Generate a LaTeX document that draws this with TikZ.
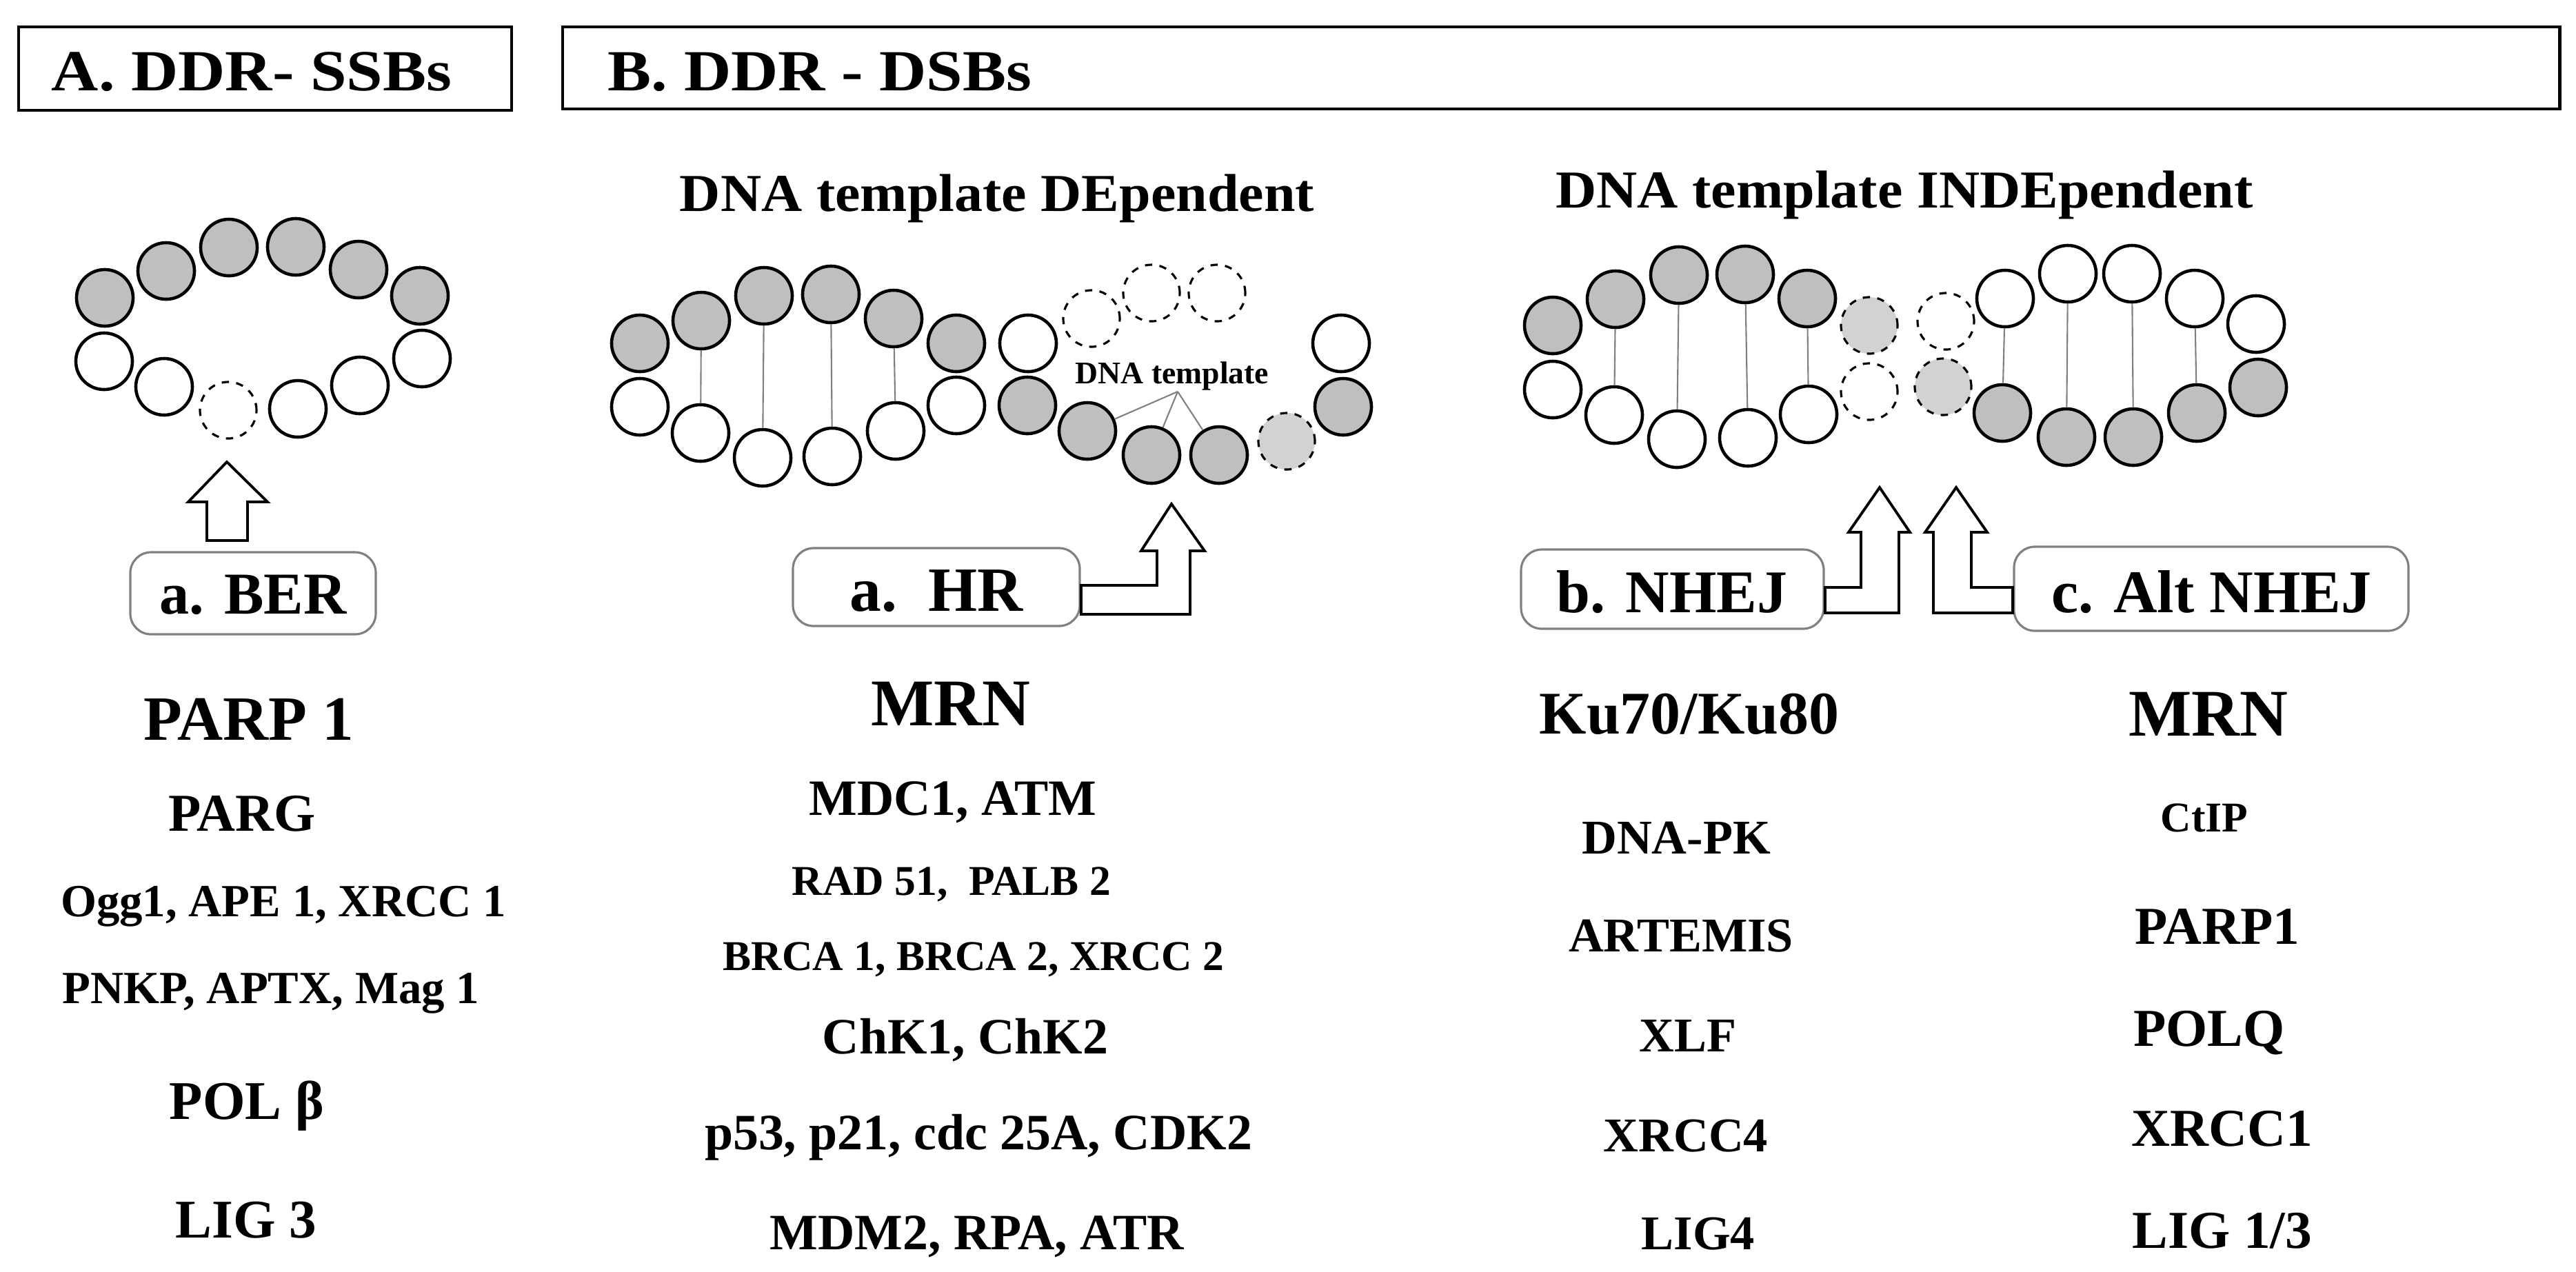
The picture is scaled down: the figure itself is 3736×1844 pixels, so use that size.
\documentclass[tikz,border=0pt]{standalone}
\usepackage{fontspec}
\setmainfont{Liberation Serif}
\begin{document}
\begin{tikzpicture}[x=0.01cm,y=-0.01cm,
  g/.style={circle,draw,line width=1.3pt,fill=gray!50,minimum size=0.82cm,inner sep=0pt},
  w/.style={circle,draw,line width=1.3pt,fill=white,minimum size=0.82cm,inner sep=0pt},
  dw/.style={circle,draw,dashed,line width=0.9pt,fill=white,minimum size=0.82cm,inner sep=0pt},
  dg/.style={circle,draw,dashed,line width=0.9pt,fill=gray!35,minimum size=0.82cm,inner sep=0pt},
  rung/.style={draw=gray,line width=0.6pt},
  lab/.style={anchor=base,font=\bfseries},
  rbox/.style={draw=gray,line width=0.9pt,rounded corners=0.3cm,fill=white},
  barrow/.style={draw,line width=1.1pt,fill=white,line join=miter},
  tbox/.style={draw,line width=1.4pt}]
\useasboundingbox (0,0) rectangle (3736,1844);
% header boxes
\draw[tbox] (27,39) rectangle (742,160);
\draw[tbox] (816,39) rectangle (3712,158);
\node[lab,font=\bfseries\fontsize{24}{28}\selectfont,xscale=1.12] (tA) at (365,131) {A. DDR- SSBs};
\node[lab,anchor=base west,font=\bfseries\fontsize{24}{28}\selectfont,xscale=1.12] (tB) at (868,131) {B. DDR - DSBs};
% SSB ring
\node[g] (a1) at (152,432) {}; \node[g] (a2) at (241,393) {}; \node[g] (a3) at (332,359) {};
\node[g] (a4) at (429,358) {}; \node[g] (a5) at (520,391) {}; \node[g] (a6) at (609,429) {};
\node[w] (b1) at (151,524) {}; \node[w] (b2) at (238,561) {}; \node[dw] (b3) at (331,595) {};
\node[w] (b4) at (432,593) {}; \node[w] (b5) at (522,559) {}; \node[w] (b6) at (612,520) {};
\draw[barrow] (300,784) -- (300,728) -- (273,728) -- (329,670) -- (388,728) -- (359,728) -- (359,784) -- cycle;
\draw[rbox] (189,801) rectangle (545,920);
\node[lab,font=\bfseries\fontsize{24.5}{28}\selectfont] (ber) at (367,890) {a. BER};
% titles
\node[lab,font=\bfseries\fontsize{22}{26}\selectfont,xscale=1.06] (tdep) at (1446,306) {DNA template DEpendent};
\node[lab,font=\bfseries\fontsize{22}{26}\selectfont,xscale=1.06] (tind) at (2762,301) {DNA template INDEpendent};
% HR DNA
\node[g] (h1) at (928,498) {}; \node[g] (h2) at (1017,465) {}; \node[g] (h3) at (1108,429) {};
\node[g] (h4) at (1205,427) {}; \node[g] (h5) at (1296,462) {}; \node[g] (h6) at (1387,498) {};
\node[w] (h7) at (1491,498) {};
\node[w] (k1) at (928,590) {}; \node[w] (k2) at (1016,628) {}; \node[w] (k3) at (1106,664) {};
\node[w] (k4) at (1207,662) {}; \node[w] (k5) at (1299,625) {}; \node[w] (k6) at (1387,588) {};
\node[g] (k7) at (1490,588) {}; \node[g] (k8) at (1577,625) {}; \node[g] (k9) at (1670,660) {};
\node[g] (k10) at (1768,660) {}; \node[dg] (k11) at (1866,640) {};
\node[w] (h8) at (1945,498) {}; \node[g] (k12) at (1948,590) {};
\node[dw] (d1) at (1583,462) {}; \node[dw] (d2) at (1670,425) {}; \node[dw] (d3) at (1765,425) {};
\foreach \i in {2,...,5} \draw[rung] (h\i) -- (k\i);
\node[lab,font=\bfseries\fontsize{13}{15}\selectfont] (tmpl) at (1700,556) {DNA template};
\coordinate (apex) at (1708,568);
\draw[draw=gray,line width=0.6pt] (apex) -- (k8); \draw[draw=gray,line width=0.6pt] (apex) -- (k9); \draw[draw=gray,line width=0.6pt] (apex) -- (k10);
% HR box and arrow
\draw[rbox] (1150,795) rectangle (1566,908);
\node[lab,font=\bfseries\fontsize{26}{30}\selectfont] (hr) at (1358,886) {a.\ \ HR};
\draw[barrow] (1568,849) -- (1678,849) -- (1678,799) -- (1655,799) -- (1699,731) -- (1747,799) -- (1726,799) -- (1726,891) -- (1568,891) -- cycle;
% NHEJ DNA
\node[g] (n1) at (2252,472) {}; \node[g] (n2) at (2343,434) {}; \node[g] (n3) at (2435,399) {};
\node[g] (n4) at (2531,398) {}; \node[g] (n5) at (2621,433) {};
\node[w] (m1) at (2252,565) {}; \node[w] (m2) at (2341,602) {}; \node[w] (m3) at (2432,637) {};
\node[w] (m4) at (2535,635) {}; \node[w] (m5) at (2623,601) {};
\foreach \i in {2,...,5} \draw[rung] (n\i) -- (m\i);
\node[dg] (e1) at (2711,472) {}; \node[dw] (e2) at (2711,568) {};
\node[dw] (e3) at (2822,466) {}; \node[dg] (e4) at (2818,561) {};
\node[w] (r1) at (2908,433) {}; \node[w] (r2) at (2999,397) {}; \node[w] (r3) at (3092,397) {};
\node[w] (r4) at (3183,433) {}; \node[w] (r5) at (3272,470) {};
\node[g] (s1) at (2904,599) {}; \node[g] (s2) at (2997,634) {}; \node[g] (s3) at (3094,634) {};
\node[g] (s4) at (3186,599) {}; \node[g] (s5) at (3275,562) {};
\foreach \i in {1,...,4} \draw[rung] (r\i) -- (s\i);
% NHEJ boxes and arrows
\draw[rbox] (2206,797) rectangle (2645,912);
\node[lab,font=\bfseries\fontsize{25}{29}\selectfont] (nhej) at (2425,888) {b. NHEJ};
\draw[rbox] (2921,793) rectangle (3493,915);
\node[lab,font=\bfseries\fontsize{25}{29}\selectfont] (alt) at (3207,888) {c. Alt NHEJ};
\draw[barrow] (2647,852) -- (2699,852) -- (2699,772) -- (2681,772) -- (2726,707) -- (2770,772) -- (2754,772) -- (2754,889) -- (2647,889) -- cycle;
\draw[barrow] (2919,852) -- (2859,852) -- (2859,772) -- (2882,772) -- (2837,707) -- (2792,772) -- (2804,772) -- (2804,889) -- (2919,889) -- cycle;
% lists
\node[lab,font=\bfseries\fontsize{26}{30}\selectfont] (p1) at (361,1073) {PARP 1};
\node[lab,font=\bfseries\fontsize{22}{26}\selectfont] (p2) at (351,1205) {PARG};
\node[lab,font=\bfseries\fontsize{19}{23}\selectfont] (p3) at (411,1329) {Ogg1, APE 1, XRCC 1};
\node[lab,font=\bfseries\fontsize{19}{23}\selectfont] (p4) at (393,1455) {PNKP, APTX, Mag 1};
\node[lab,font=\bfseries\fontsize{22.5}{26}\selectfont] (p5) at (358,1623) {POL β};
\node[lab,font=\bfseries\fontsize{22.5}{26}\selectfont] (p6) at (357,1795) {LIG 3};
\node[lab,font=\bfseries\fontsize{27.5}{31}\selectfont] (q1) at (1379,1052) {MRN};
\node[lab,font=\bfseries\fontsize{21}{25}\selectfont] (q2) at (1382,1182) {MDC1, ATM};
\node[lab,font=\bfseries\fontsize{17.5}{21}\selectfont] (q3) at (1380,1298) {RAD 51,\ \ PALB 2};
\node[lab,font=\bfseries\fontsize{17.5}{21}\selectfont] (q4) at (1412,1407) {BRCA 1, BRCA 2, XRCC 2};
\node[lab,font=\bfseries\fontsize{21}{25}\selectfont] (q5) at (1400,1528) {ChK1, ChK2};
\node[lab,font=\bfseries\fontsize{21}{25}\selectfont] (q6) at (1419,1667) {p53, p21, cdc 25A, CDK2};
\node[lab,font=\bfseries\fontsize{21}{25}\selectfont] (q7) at (1417,1812) {MDM2, RPA, ATR};
\node[lab,font=\bfseries\fontsize{25}{29}\selectfont] (u1) at (2450,1064) {Ku70/Ku80};
\node[lab,font=\bfseries\fontsize{20}{24}\selectfont] (u2) at (2431,1238) {DNA-PK};
\node[lab,font=\bfseries\fontsize{20}{24}\selectfont] (u3) at (2438,1380) {ARTEMIS};
\node[lab,font=\bfseries\fontsize{20}{24}\selectfont] (u4) at (2448,1525) {XLF};
\node[lab,font=\bfseries\fontsize{20}{24}\selectfont] (u5) at (2445,1670) {XRCC4};
\node[lab,font=\bfseries\fontsize{20}{24}\selectfont] (u6) at (2463,1812) {LIG4};
\node[lab,font=\bfseries\fontsize{27.5}{31}\selectfont] (v1) at (3203,1067) {MRN};
\node[lab,font=\bfseries\fontsize{17.5}{21}\selectfont] (v2) at (3197,1206) {CtIP};
\node[lab,font=\bfseries\fontsize{22}{26}\selectfont] (v3) at (3216,1369) {PARP1};
\node[lab,font=\bfseries\fontsize{22}{26}\selectfont] (v4) at (3204,1517) {POLQ};
\node[lab,font=\bfseries\fontsize{22}{26}\selectfont] (v5) at (3223,1662) {XRCC1};
\node[lab,font=\bfseries\fontsize{22}{26}\selectfont] (v6) at (3223,1810) {LIG 1/3};
\end{tikzpicture}
\end{document}
